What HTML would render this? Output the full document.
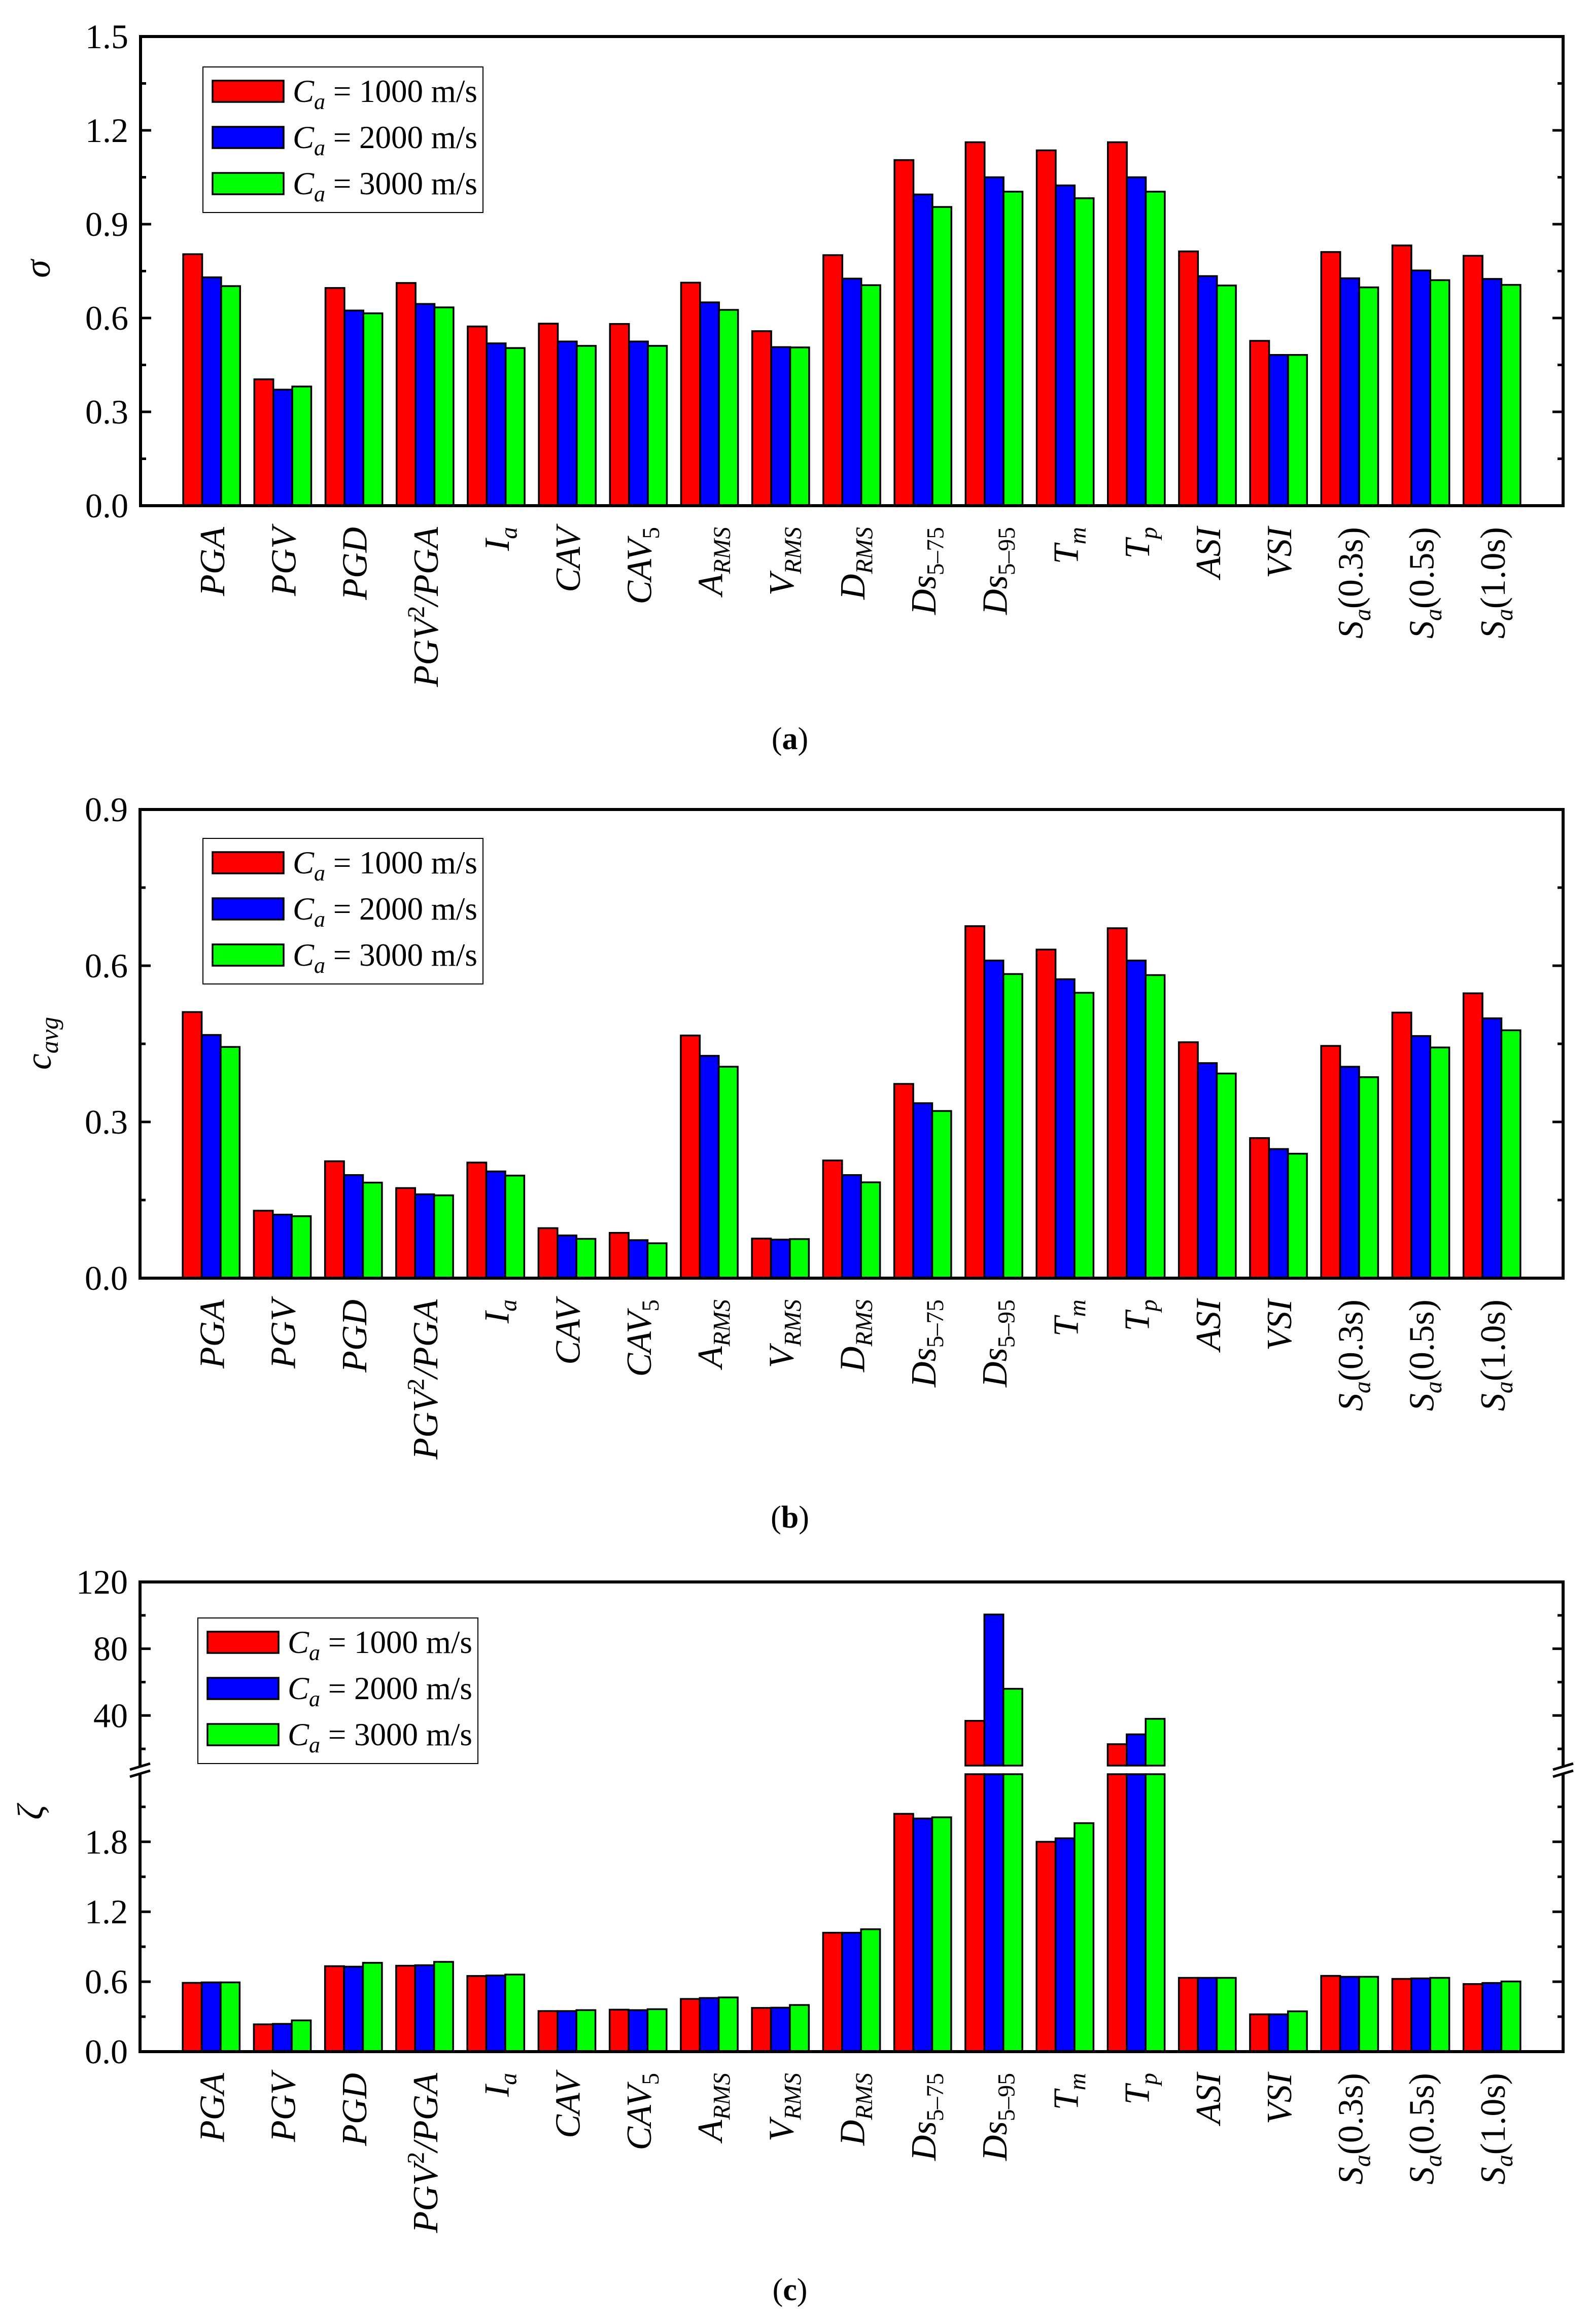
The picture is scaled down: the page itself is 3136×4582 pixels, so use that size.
<!DOCTYPE html>
<html><head><meta charset="utf-8">
<style>
html,body{margin:0;padding:0;background:#fff;}
svg{display:block;}
text{font-family:"Liberation Serif",serif;fill:#000;}
</style></head>
<body>
<svg id="fig" xmlns="http://www.w3.org/2000/svg" width="3136" height="4582" viewBox="0 0 3136 4582"></svg>
<script>
const categories = ["PGA","PGV","PGD","PGV2/PGA","Ia","CAV","CAV5","ARMS","VRMS","DRMS","Ds5-75","Ds5-95","Tm","Tp","ASI","VSI","Sa(0.3s)","Sa(0.5s)","Sa(1.0s)"];
const seriesNames = ["Ca = 1000 m/s","Ca = 2000 m/s","Ca = 3000 m/s"];
const sigma1000 = [0.804,0.404,0.696,0.712,0.573,0.582,0.581,0.713,0.558,0.801,1.105,1.162,1.136,1.162,0.813,0.527,0.811,0.832,0.799];
const sigma2000 = [0.730,0.371,0.624,0.645,0.519,0.525,0.525,0.650,0.507,0.726,0.995,1.050,1.024,1.050,0.734,0.482,0.727,0.752,0.725];
const sigma3000 = [0.702,0.381,0.615,0.634,0.504,0.511,0.511,0.626,0.506,0.705,0.955,1.004,0.983,1.004,0.704,0.482,0.698,0.721,0.706];
const cavg1000 = [0.511,0.1295,0.2245,0.173,0.222,0.096,0.087,0.466,0.076,0.226,0.373,0.676,0.631,0.672,0.453,0.269,0.446,0.510,0.547];
const cavg2000 = [0.467,0.122,0.198,0.161,0.205,0.082,0.073,0.427,0.074,0.198,0.336,0.610,0.574,0.610,0.413,0.248,0.406,0.465,0.499];
const cavg3000 = [0.444,0.119,0.1835,0.159,0.197,0.0755,0.067,0.406,0.075,0.184,0.321,0.584,0.548,0.582,0.393,0.239,0.386,0.443,0.476];
const zeta1000 = [0.590,0.234,0.733,0.737,0.649,0.348,0.360,0.452,0.375,1.02,2.04,36.8,1.80,22.8,0.633,0.32,0.650,0.624,0.58];
const zeta2000 = [0.594,0.238,0.729,0.741,0.653,0.348,0.356,0.460,0.377,1.02,2.00,100.5,1.83,28.7,0.633,0.32,0.642,0.628,0.589];
const zeta3000 = [0.594,0.268,0.762,0.770,0.661,0.356,0.364,0.465,0.40,1.05,2.01,56.0,1.96,38.0,0.633,0.346,0.642,0.633,0.602];
const sigmaTicks = ["0.0","0.3","0.6","0.9","1.2","1.5"];
const cavgTicks = ["0.0","0.3","0.6","0.9"];
const zetaLowTicks = ["0.0","0.6","1.2","1.8"];
const zetaHighTicks = ["40","80","120"];

const NS="http://www.w3.org/2000/svg";
const svg=document.getElementById('fig');
const colors=["#ff0000","#0000ff","#00ff00"];
function el(tag,attrs,parent){const e=document.createElementNS(NS,tag);for(const k in attrs)e.setAttribute(k,attrs[k]);(parent||svg).appendChild(e);return e;}

function labelSpans(t,name){
  // returns array of [text, style] where style: i=italic, n=normal, sub, sup
  const map={
    "PGA":[["PGA","i"]],"PGV":[["PGV","i"]],"PGD":[["PGD","i"]],
    "PGV2/PGA":[["PGV","i"],["2","sup"],["/PGA","i"]],
    "Ia":[["I","i"],["a","subi"]],"CAV":[["CAV","i"]],"CAV5":[["CAV","i"],["5","sub"]],
    "ARMS":[["A","i"],["RMS","subi"]],"VRMS":[["V","i"],["RMS","subi"]],"DRMS":[["D","i"],["RMS","subi"]],
    "Ds5-75":[["Ds","i"],["5\u201375","sub"]],"Ds5-95":[["Ds","i"],["5\u201395","sub"]],
    "Tm":[["T","i"],["m","subi"]],"Tp":[["T","i"],["p","subi"]],"ASI":[["ASI","i"]],"VSI":[["VSI","i"]],
    "Sa(0.3s)":[["S","i"],["a","subi"],["(0.3s)","n"]],"Sa(0.5s)":[["S","i"],["a","subi"],["(0.5s)","n"]],"Sa(1.0s)":[["S","i"],["a","subi"],["(1.0s)","n"]]
  };
  return map[t];
}
function fillText(txt,parts,size){
  let shift=0;
  parts.forEach(p=>{
    const ts=el('tspan',{},txt);
    ts.textContent=p[0];
    let target=0,fs=size,style='normal';
    if(p[1]==='i'){style='italic';}
    if(p[1]==='sub'){target=size*0.22;fs=size*0.68;}
    if(p[1]==='subi'){target=size*0.22;fs=size*0.68;style='italic';}
    if(p[1]==='sup'){target=-size*0.38;fs=size*0.68;}
    ts.setAttribute('font-style',style);
    ts.setAttribute('font-size',fs);
    ts.setAttribute('dy',target-shift);
    shift=target;
  });
}

function drawPanel(cfg){
  const g=el('g',{});
  
  
  const L=cfg.left,R=cfg.right,T=cfg.top,B=cfg.bottom;
  const pitch=(R-L)/20, bw=pitch*0.8/3;
  const xc=i=>L+(i+1)*pitch;
  const series=cfg.series;
  // bars
  for(let i=0;i<categories.length;i++){
    for(let s=0;s<3;s++){
      const v=series[s][i];
      const x=xc(i)-1.5*bw+s*bw;
      const segs=cfg.barSegs(v);
      segs.forEach(sg=>{
        const r=el('rect',{x:x,y:sg[0],width:bw,height:sg[1]-sg[0],fill:colors[s],stroke:'#000','stroke-width':3.5},g);
        
        
      });
    }
    const lab=el('text',{transform:`translate(${xc(i)+25},${B+42}) rotate(-90)`,'text-anchor':'end','font-size':70},g);
    
    
    fillText(lab,labelSpans(categories[i]),70);
  }
  // frame
  const fr=el('rect',{x:L,y:T,width:R-L,height:B-T,fill:'none',stroke:'#000','stroke-width':6},g);
  
  
  // ticks
  cfg.ticks.forEach(t=>{
    const len=t.major?21:11;
    el('line',{x1:L,x2:L+len,y1:t.y,y2:t.y,stroke:'#000','stroke-width':5},g);
    el('line',{x1:R,x2:R-len,y1:t.y,y2:t.y,stroke:'#000','stroke-width':5},g);
    if(t.label!==undefined){
      const tl=el('text',{x:L-24,y:t.y+23,'text-anchor':'end','font-size':68},g);
      tl.textContent=t.label;
      
      
    }
  });
  if(cfg.extra)cfg.extra(g);
  // y title
  const yt=el('text',{transform:`translate(${cfg.ytx},${cfg.yty}) rotate(-90)`,'text-anchor':'middle','font-size':72,'font-style':'italic'},g);
  
  
  if(cfg.ytitle==='cavg'){const a=el('tspan',{},yt);a.textContent='c';const b=el('tspan',{'font-size':50,dy:14},yt);b.textContent='avg';}
  else yt.textContent=cfg.ytitle;
  // legend
  const lg=el('g',{},g);
  
  
  const lx=cfg.legend[0],ly=cfg.legend[1];
  el('rect',{x:lx,y:ly,width:552,height:287,fill:'#fff',stroke:'#000','stroke-width':2},lg);
  for(let s=0;s<3;s++){
    const cy=ly+48+s*91;
    const e=el('g',{},lg);
    
    
    el('rect',{x:lx+19,y:cy-21,width:140,height:42,fill:colors[s],stroke:'#000','stroke-width':3.5},e);
    const t=el('text',{x:lx+177,y:cy+21,'font-size':63},e);
    const c=el('tspan',{'font-style':'italic'},t);c.textContent='C';
    const a=el('tspan',{'font-style':'italic','font-size':44,dy:14},t);a.textContent='a';
    const r=el('tspan',{dy:-14},t);r.textContent=' = '+(s+1)+'000 m/s';
  }
  // panel label
  const pl=el('text',{x:1557,y:cfg.plY,'text-anchor':'middle','font-size':62},g);
  
  
  const p1=el('tspan',{},pl);p1.textContent='(';
  const p2=el('tspan',{'font-weight':'bold'},pl);p2.textContent=cfg.letter;
  const p3=el('tspan',{},pl);p3.textContent=')';
}

// Panel a
(function(){
  const T=72,B=997,max=1.5;
  const y=v=>B-(v/max)*(B-T);
  const ticks=[];
  for(let k=0;k<=10;k++){const v=k*0.15;ticks.push({y:y(v),major:k%2===0,label:k%2===0?sigmaTicks[k/2]:undefined});}
  drawPanel({name:'panel-a-sigma',left:277,right:3081,top:T,bottom:B,series:[sigma1000,sigma2000,sigma3000],
    barSegs:v=>[[y(v),B]],ticks:ticks,ytx:98,yty:530,ytitle:'\u03c3',legend:[400,132],plY:1477,letter:'a'});
})();
// Panel b
(function(){
  const T=1596,B=2520,max=0.9;
  const y=v=>B-(v/max)*(B-T);
  const ticks=[];
  for(let k=0;k<=6;k++){const v=k*0.15;ticks.push({y:y(v),major:k%2===0,label:k%2===0?cavgTicks[k/2]:undefined});}
  drawPanel({name:'panel-b-cavg',left:276,right:3081,top:T,bottom:B,series:[cavg1000,cavg2000,cavg3000],
    barSegs:v=>[[y(v),B]],ticks:ticks,ytx:100,yty:2057,ytitle:'cavg',legend:[400,1653],plY:3012,letter:'b'});
})();
// Panel c (broken axis)
(function(){
  const T=3119,B=4045,lowTop=3498,upBot=3481,lowMax=2.38,upMin=10,upMax=120;
  const yl=v=>B-(v/lowMax)*(B-lowTop);
  const yu=v=>upBot-((v-upMin)/(upMax-upMin))*(upBot-T);
  const ticks=[];
  for(let k=0;k<=7;k++){const v=k*0.3;ticks.push({y:yl(v),major:k%2===0,label:k%2===0?zetaLowTicks[k/2]:undefined});}
  [20,40,60,80,100,120].forEach((v,k)=>{ticks.push({y:yu(v),major:k%2===1,label:k%2===1?zetaHighTicks[(k-1)/2]:undefined});});
  drawPanel({name:'panel-c-zeta',left:276,right:3081,top:T,bottom:B,series:[zeta1000,zeta2000,zeta3000],
    barSegs:v=>v<=lowMax?[[yl(v),B]]:[[lowTop,B],[yu(v),upBot]],ticks:ticks,ytx:84,yty:3573,ytitle:'\u03b6',legend:[390,3190],plY:4535,letter:'c',
    extra:g=>{
      [276,3081].forEach(ax=>{
        const br=el('g',{},g);
        
        
        el('rect',{x:ax-8,y:upBot+2,width:16,height:lowTop-upBot-4,fill:'#fff'},br);
        el('line',{x1:ax-20,y1:upBot+8,x2:ax+20,y2:upBot-4,stroke:'#000','stroke-width':5},br);
        el('line',{x1:ax-20,y1:lowTop+5,x2:ax+20,y2:lowTop-7,stroke:'#000','stroke-width':5},br);
      });
    }});
})();
</script>
</body></html>
